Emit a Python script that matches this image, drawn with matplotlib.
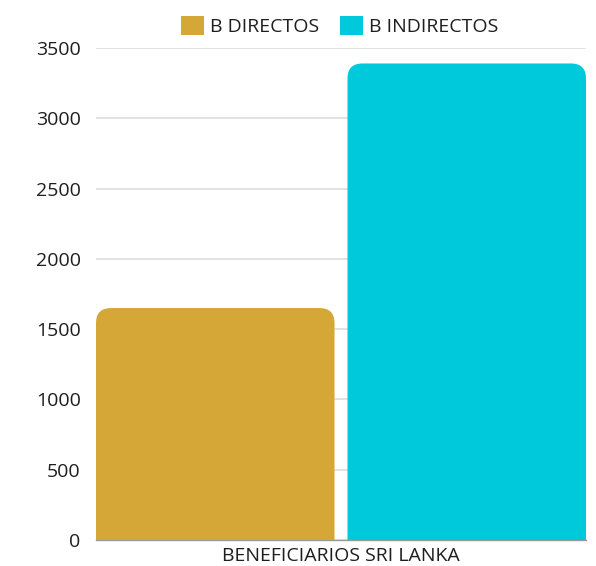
import matplotlib.pyplot as plt
from matplotlib.path import Path
from matplotlib.patches import PathPatch, Patch

plt.rcParams['font.family'] = ['Open Sans', 'DejaVu Sans']

category = 'BENEFICIARIOS SRI LANKA'
series = ['B DIRECTOS', 'B INDIRECTOS']
values = [1650, 3390]
colors = ['#d4a736', '#00c9db']
yticks = [0, 500, 1000, 1500, 2000, 2500, 3000, 3500]

W, H = 596, 566
ax_l, ax_r, ax_b, ax_t = 96, 586, 26, 518
fig = plt.figure(figsize=(W / 100, H / 100), dpi=100)
ax = fig.add_axes([ax_l / W, ax_b / H, (ax_r - ax_l) / W, (ax_t - ax_b) / H])
ax.set_xlim(-0.5, 0.5)
ax.set_ylim(0, 3500)

px_x = 1 / (ax_r - ax_l)
px_y = 3500 / (ax_t - ax_b)
bar_w = 238.5 * px_x
gap = 13 * px_x
offsets = [-(bar_w + gap) / 2, (bar_w + gap) / 2]
# corner radius, about 15 px
rx = 15 * px_x
ry = 15 * px_y


def top_rounded(x0, w, h):
    x1 = x0 + w
    verts = [(x0, 0), (x0, h - ry), (x0, h), (x0 + rx, h),
             (x1 - rx, h), (x1, h), (x1, h - ry), (x1, 0), (x0, 0)]
    codes = [Path.MOVETO, Path.LINETO, Path.CURVE3, Path.CURVE3,
             Path.LINETO, Path.CURVE3, Path.CURVE3, Path.LINETO, Path.CLOSEPOLY]
    return Path(verts, codes)


for off, v, c in zip(offsets, values, colors):
    ax.add_patch(PathPatch(top_rounded(off - bar_w / 2, bar_w, v),
                           facecolor=c, edgecolor='none', zorder=3))

ax.set_yticks(yticks)
ax.set_yticklabels([str(t) for t in yticks])
ax.yaxis.grid(True, color='#dddddd', linewidth=1.2)
ax.set_axisbelow(True)
ax.set_xticks([0])
ax.set_xticklabels([category])
ax.tick_params(axis='both', length=0, labelsize=14, labelcolor='#1e1e1e')
ax.tick_params(axis='y', pad=11)
ax.tick_params(axis='x', pad=5)
for s in ['top', 'right', 'left']:
    ax.spines[s].set_visible(False)
ax.spines['bottom'].set_color('#999999')
ax.spines['bottom'].set_linewidth(1)

handles = [Patch(facecolor=c, edgecolor='none') for c in colors]
fig.legend(handles, series, loc='center', bbox_to_anchor=(340 / W, 1 - 26 / H),
           ncol=2, frameon=False, fontsize=14, handlelength=1.18, handleheight=1.18,
           handletextpad=0.31, columnspacing=1.08, labelcolor='#1e1e1e',
           borderpad=0, borderaxespad=0)

fig.savefig('out.png', dpi=100)
